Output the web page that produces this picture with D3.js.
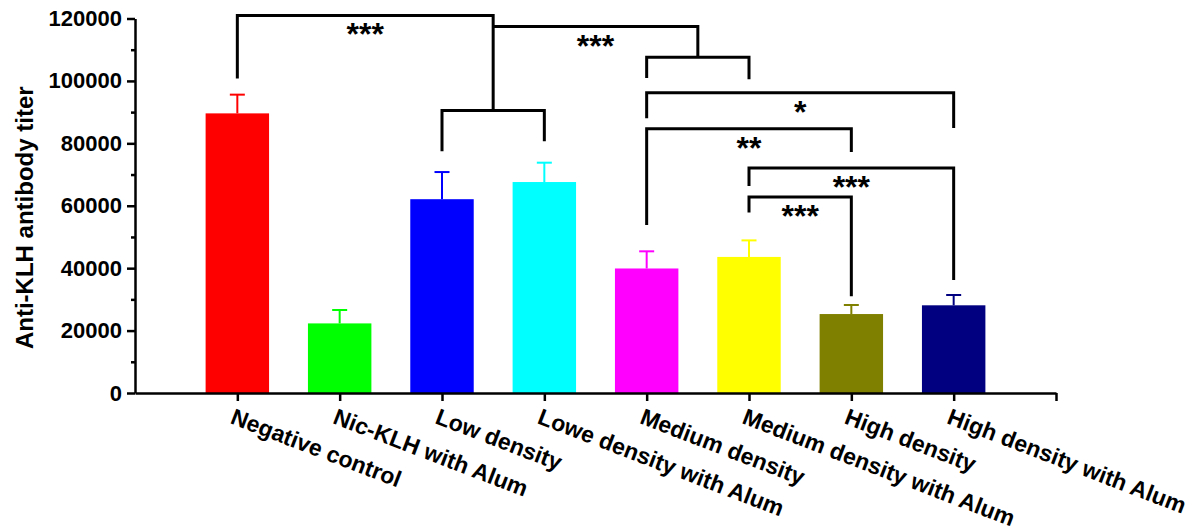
<!DOCTYPE html>
<html>
<head>
<meta charset="utf-8">
<script src="https://cdn.jsdelivr.net/npm/d3@7"></script>
<style>
  body { margin: 0; background: #fff; }
  svg { display: block; font-family: "Liberation Sans", Arial, sans-serif; font-weight: bold; }
</style>
</head>
<body>
<svg id="chart"></svg>
<script>
// data
const categories = ["Negative control", "Nic-KLH with Alum", "Low density", "Lowe density with Alum",
    "Medium density", "Medium density with Alum", "High density", "High density with Alum"];
const means = [89600, 22300, 62100, 67600, 39900, 43600, 25300, 28100];
const errors = [6000, 4300, 8700, 6200, 5500, 5300, 2900, 3300];
const barColors = ["#ff0000", "#00ff00", "#0000ff", "#00ffff", "#ff00ff", "#ffff00", "#808000", "#000080"];
const yTicks = [0, 20000, 40000, 60000, 80000, 100000, 120000];
const yMinorTicks = [10000, 30000, 50000, 70000, 90000, 110000];

// significance brackets: [from, to, top, left leg end, right leg end, label]
// from / to are category indexes, x.5 = middle of a sub bracket
const brackets = [
    [2, 3, 90500, 77500, 80700, ""],
    [4, 5, 107600, 100900, 100500, ""],
    [0, 2.5, 121000, 100800, 90500, "***"],
    [2.5, 4.5, 117400, 117400, 107600, "***"],
    [4, 7, 96200, 88000, 84900, "*"],
    [4, 6, 84700, 53800, 77200, "**"],
    [5, 7, 72100, 66300, 36200, "***"],
    [5, 6, 62800, 57800, 31000, "***"]
];

const width = 1203;
const height = 531;

let svg = d3.select("#chart")
    .attr("width", width)
    .attr("height", height);

// x: category i sits at i + 1, axis runs 0 .. n + 1
let x = d3.scaleLinear()
    .domain([0, categories.length + 1])
    .range([135, 1056]);
let pos = i => x(i + 1);
let step = x(1) - x(0);
let barW = step * 0.62;

let y = d3.scaleLinear()
    .domain([0, 120000])
    .range([393, 18.5]);

// bars
svg.selectAll(".bar")
    .data(means)
    .enter()
    .append("rect")
    .attr("x", (d, i) => pos(i) - barW / 2)
    .attr("y", d => y(d))
    .attr("width", barW)
    .attr("height", d => y(0) - y(d))
    .attr("fill", (d, i) => barColors[i]);

// error bars (upper only)
let err = svg.selectAll(".err")
    .data(means)
    .enter()
    .append("g")
    .attr("stroke", (d, i) => barColors[i])
    .attr("stroke-width", 2);
err.append("line")
    .attr("x1", (d, i) => pos(i))
    .attr("x2", (d, i) => pos(i))
    .attr("y1", d => y(d))
    .attr("y2", (d, i) => y(d + errors[i]));
err.append("line")
    .attr("x1", (d, i) => pos(i) - 7.5)
    .attr("x2", (d, i) => pos(i) + 7.5)
    .attr("y1", (d, i) => y(d + errors[i]))
    .attr("y2", (d, i) => y(d + errors[i]));

// axes
let axisY = svg.append("g")
    .attr("transform", `translate(${x(0)},0)`)
    .call(d3.axisLeft(y).tickValues(yTicks).tickSize(8).tickSizeOuter(0).tickPadding(5).tickFormat(d3.format("d")));
axisY.selectAll("text").style("font-size", "22px").attr("fill", "#000");

let minorY = svg.append("g")
    .attr("transform", `translate(${x(0)},0)`)
    .call(d3.axisLeft(y).tickValues(yMinorTicks).tickSize(4).tickSizeOuter(0).tickFormat(""));
minorY.select(".domain").remove();

let axisX = svg.append("g")
    .attr("transform", `translate(0,${y(0)})`)
    .call(d3.axisBottom(x).tickValues(d3.range(1, categories.length + 2)).tickSize(8).tickSizeOuter(0).tickFormat(""));

svg.selectAll(".domain, .tick line")
    .attr("stroke", "#000")
    .attr("stroke-width", 2.5);

// rotated category labels
svg.selectAll(".xlab")
    .data(categories)
    .enter()
    .append("text")
    .attr("transform", (d, i) => `translate(${pos(i) - 8},${y(0) + 30}) rotate(21)`)
    .attr("text-anchor", "start")
    .style("font-size", "23px")
    .text(d => d);

// y title
svg.append("text")
    .attr("transform", `translate(33,${(y(0) + y(120000)) / 2 + 12}) rotate(-90)`)
    .attr("text-anchor", "middle")
    .style("font-size", "24px")
    .text("Anti-KLH antibody titer");

// significance brackets
let br = svg.selectAll(".br")
    .data(brackets)
    .enter()
    .append("g");
br.append("path")
    .attr("d", d => `M${pos(d[0])},${y(d[3])}V${y(d[2])}H${pos(d[1])}V${y(d[4])}`)
    .attr("fill", "none")
    .attr("stroke", "#000")
    .attr("stroke-width", 3);
br.append("text")
    .attr("x", d => (pos(d[0]) + pos(d[1])) / 2)
    .attr("y", d => y(d[2]) + 30)
    .attr("text-anchor", "middle")
    .style("font-size", "32px")
    .text(d => d[5]);
</script>
</body>
</html>
